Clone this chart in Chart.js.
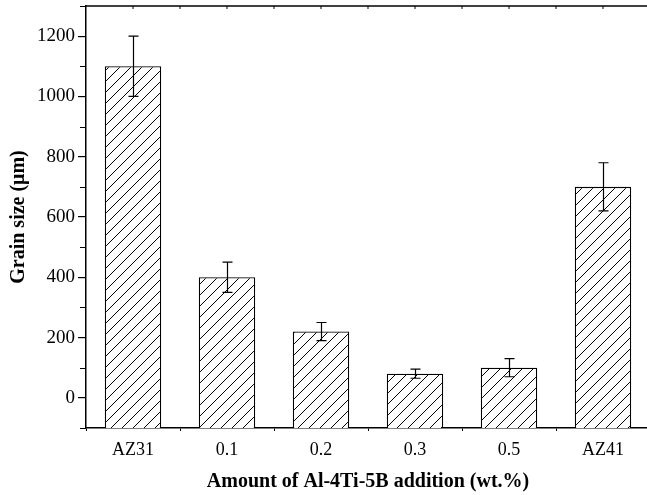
<!DOCTYPE html>
<html>
<head>
<meta charset="utf-8">
<script src="https://cdn.jsdelivr.net/npm/chart.js@4"></script>
<style>
html,body{margin:0;padding:0;background:#fff;overflow:hidden;}
#wrap{position:relative;width:647px;height:495px;overflow:hidden;}
#box{position:absolute;left:0;top:0;width:660px;height:495px;}
</style>
</head>
<body>
<div id="wrap"><div id="box"><canvas id="c" width="660" height="495"></canvas></div></div>
<script>
const categories = ['AZ31', '0.1', '0.2', '0.3', '0.5', 'AZ41'];
const grainSize = [1100, 400, 220, 80, 100, 700];
const grainError = [100, 50, 30, 15, 30, 80];
const yTickValues = [0, 200, 400, 600, 800, 1000, 1200];

function hatch() {
  const s = 11;
  const c = document.createElement('canvas');
  c.width = s; c.height = s;
  const g = c.getContext('2d');
  g.fillStyle = '#fff';
  g.fillRect(0, 0, s, s);
  g.strokeStyle = '#000';
  g.lineWidth = 1;
  g.beginPath();
  g.moveTo(-1, s + 1); g.lineTo(s + 1, -1);
  g.moveTo(-1, 1); g.lineTo(1, -1);
  g.moveTo(s - 1, s + 1); g.lineTo(s + 1, s - 1);
  g.stroke();
  return g.createPattern(c, 'repeat');
}

const extras = {
  id: 'extras',
  afterDatasetsDraw(chart) {
    const ctx = chart.ctx;
    const y = chart.scales.y;
    const meta = chart.getDatasetMeta(0);
    ctx.save();
    ctx.strokeStyle = '#000';
    ctx.lineWidth = 1.2;
    meta.data.forEach((bar, i) => {
      const cx = Math.round(bar.x) + 0.5;
      const t = y.getPixelForValue(grainSize[i] + grainError[i]);
      const b = y.getPixelForValue(grainSize[i] - grainError[i]);
      ctx.beginPath();
      ctx.moveTo(cx, t); ctx.lineTo(cx, b);
      ctx.moveTo(cx - 5, t); ctx.lineTo(cx + 5, t);
      ctx.moveTo(cx - 5, b); ctx.lineTo(cx + 5, b);
      ctx.stroke();
    });
    ctx.restore();
  },
  afterDraw(chart) {
    const ctx = chart.ctx;
    const a = chart.chartArea;
    const y = chart.scales.y;
    const x = chart.scales.x;
    ctx.save();
    ctx.strokeStyle = '#000';
    ctx.lineWidth = 1.5;
    ctx.beginPath();
    ctx.moveTo(a.left, a.top); ctx.lineTo(a.right + 20, a.top);
    ctx.stroke();
    ctx.lineWidth = 1;
    ctx.beginPath();
    const step = x.getPixelForValue(1) - x.getPixelForValue(0);
    categories.forEach((c, i) => {
      const px = x.getPixelForValue(i);
      ctx.moveTo(px, a.top); ctx.lineTo(px, a.top + 3);
      ctx.moveTo(px + step / 2, a.top); ctx.lineTo(px + step / 2, a.top + 3);
    });
    ctx.stroke();
    ctx.lineWidth = 1.2;
    ctx.beginPath();
    for (let v = -100; v <= 1300; v += 200) {
      const py = Math.round(y.getPixelForValue(v)) + 0.5;
      ctx.moveTo(a.left - 6, py); ctx.lineTo(a.left, py);
    }
    ctx.stroke();
    ctx.restore();
  }
};

new Chart(document.getElementById('c'), {
  type: 'bar',
  data: {
    labels: categories,
    datasets: [{
      data: grainSize,
      base: -100,
      backgroundColor: hatch(),
      borderColor: '#000',
      borderWidth: 1.3,
      barPercentage: 0.6,
      categoryPercentage: 1.0
    }]
  },
  options: {
    responsive: false,
    animation: false,
    devicePixelRatio: 1,
    layout: { padding: { top: 6, right: 10, left: 0, bottom: 0 } },
    plugins: { legend: { display: false }, tooltip: { enabled: false } },
    scales: {
      x: {
        afterFit(s) { s.height = 67; s.paddingLeft = 0; s.paddingRight = 0; },
        grid: { drawOnChartArea: false, tickLength: 3, color: '#000', lineWidth: 1 },
        border: { color: '#000', width: 1.5 },
        ticks: { color: '#000', font: { family: 'Liberation Serif', size: 18 }, padding: 8 },
        title: {
          display: true,
          text: 'Amount of Al-4Ti-5B addition (wt.%)',
          color: '#000',
          font: { family: 'Liberation Serif', size: 20, weight: 'bold' },
          padding: { top: 0, bottom: 1 }
        }
      },
      y: {
        min: -100,
        max: 1300,
        afterFit(s) { s.width = 86; s.paddingTop = 0; s.paddingBottom = 0; },
        afterBuildTicks(s) { s.ticks = yTickValues.map(v => ({ value: v })); },
        grid: { drawOnChartArea: false, tickLength: 8, color: '#000', lineWidth: 1.2 },
        border: { color: '#000', width: 1.5 },
        ticks: {
          color: '#000',
          font: { family: 'Liberation Serif', size: 19 },
          padding: 3,
          callback: (v) => String(v)
        },
        title: {
          display: true,
          text: 'Grain size (\u03bcm)',
          color: '#000',
          font: { family: 'Liberation Serif', size: 20, weight: 'bold' },
          padding: { top: 7, bottom: 0 }
        }
      }
    }
  },
  plugins: [extras]
});
</script>
</body>
</html>
